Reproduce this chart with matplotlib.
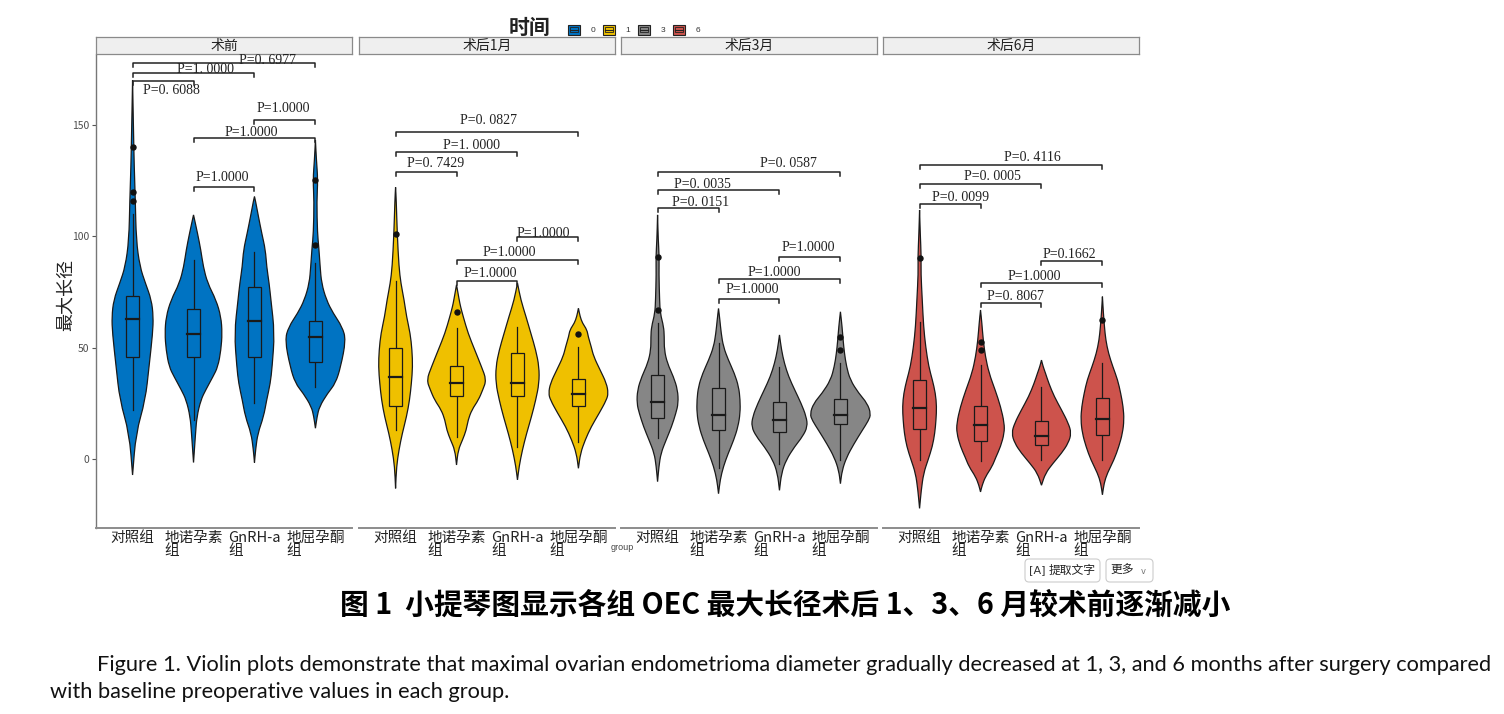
import numpy as np
import matplotlib
matplotlib.use('Agg')
import matplotlib.pyplot as plt
from matplotlib.path import Path
from matplotlib.patches import PathPatch, Rectangle, FancyBboxPatch

plt.rcParams['font.family'] = ['Noto Sans CJK SC', 'DejaVu Sans']

# ---- data ----
groups = ["对照组", "地诺孕素\n组", "GnRH-a\n组", "地屈孕酮\n组"]
times = ["术前", "术后1月", "术后3月", "术后6月"]
time_codes = ["0", "1", "3", "6"]
colors = ["#0073C2", "#EFC000", "#868686", "#CD534C"]

# violin outlines: value levels and half widths (category units), one list per group
pre_y = [[-7.2, 11.5, 26.5, 41.4, 56.5, 63.9, 71.4, 79, 86.4, 98.3, 116.3, 131.3, 146.4, 170],
         [-1.6, 11.5, 19, 26.5, 31, 37, 41.4, 48.9, 56.5, 63.9, 71.4, 79, 86.4, 93.8, 101.3, 109.6],
         [-1.6, 4.5, 11.5, 19, 26.5, 34, 41.4, 56.5, 71.4, 79, 86.4, 93.8, 101.3, 108.7, 116, 117.8],
         [13.8, 19, 23.5, 29.5, 34, 41.4, 53.4, 59.3, 65.5, 71.4, 79, 86.4, 95.3, 101.3, 116, 125.3, 134.3, 143.2]]
pre_w = [[0, 0.055, 0.21, 0.27, 0.33, 0.34, 0.31, 0.21, 0.12, 0.06, 0.045, 0.027, 0.016, 0],
         [0, 0.033, 0.055, 0.12, 0.2, 0.32, 0.4, 0.45, 0.47, 0.45, 0.37, 0.23, 0.16, 0.12, 0.066, 0],
         [0, 0.02, 0.055, 0.15, 0.2, 0.26, 0.29, 0.33, 0.27, 0.24, 0.2, 0.18, 0.12, 0.066, 0.016, 0],
         [0, 0.027, 0.066, 0.2, 0.33, 0.415, 0.5, 0.44, 0.29, 0.18, 0.1, 0.077, 0.055, 0.033, 0.022, 0.04, 0.016, 0]]

m1_y = [[-13.2, -3.4, 4, 11.5, 19, 26.5, 34, 41.4, 48.9, 56.4, 63.9, 71.4, 78.9, 86.4, 101.3, 116.3, 122],
        [-2.7, 4, 8.5, 13, 17.5, 22, 26.5, 31, 35.5, 41.4, 48.9, 56.4, 63.9, 68.4, 71.4, 78.2],
        [-9.4, -3.4, 4, 11.5, 19, 26.5, 34, 41.4, 48.9, 56.4, 63.9, 71.4, 79],
        [-4.2, 2.5, 8.5, 14.5, 20.5, 26.5, 29.5, 34, 40, 46, 50.4, 55, 58, 61, 64, 67.7]]
m1_w = [[0, 0.016, 0.055, 0.11, 0.18, 0.23, 0.26, 0.28, 0.27, 0.24, 0.18, 0.14, 0.087, 0.055, 0.027, 0.011, 0],
        [0, 0.027, 0.098, 0.16, 0.19, 0.25, 0.36, 0.43, 0.49, 0.41, 0.3, 0.19, 0.11, 0.066, 0.044, 0],
        [0, 0.027, 0.08, 0.15, 0.23, 0.3, 0.355, 0.355, 0.3, 0.22, 0.14, 0.055, 0],
        [0, 0.033, 0.11, 0.21, 0.34, 0.46, 0.49, 0.46, 0.355, 0.25, 0.21, 0.16, 0.14, 0.066, 0.027, 0]]

m3_y = [[-10.2, -3.4, 2.6, 8.5, 14.5, 20.5, 25, 31, 37, 43, 49, 55, 59.4, 65.4, 71.4, 83.3, 90.8, 98.3, 109.6],
        [-15.6, -9.4, -3.4, 2.6, 8.5, 14.5, 20.5, 26.5, 32.5, 38.5, 44.5, 50.4, 56.4, 62.4, 67.6],
        [-14.1, -6.4, -0.4, 5.6, 10.1, 14.5, 19, 25, 31, 37, 43, 49, 55.7],
        [-11.1, -5.2, 0.7, 6.7, 12.7, 17.2, 20.2, 25, 29.5, 35.5, 41.5, 47.4, 53.4, 59.4, 66.1]]
m3_w = [[0, 0.022, 0.055, 0.14, 0.23, 0.3, 0.34, 0.33, 0.26, 0.16, 0.11, 0.11, 0.1, 0.044, 0.033, 0.022, 0.027, 0.011, 0],
        [0, 0.027, 0.08, 0.16, 0.25, 0.32, 0.355, 0.355, 0.33, 0.26, 0.16, 0.08, 0.044, 0.022, 0],
        [0, 0.033, 0.11, 0.25, 0.38, 0.46, 0.44, 0.355, 0.25, 0.15, 0.08, 0.033, 0],
        [0, 0.027, 0.1, 0.22, 0.355, 0.46, 0.5, 0.44, 0.3, 0.16, 0.1, 0.066, 0.044, 0.027, 0]]

m6_y = [[-22.2, -14.1, -6.4, -0.4, 5.6, 11.6, 17.6, 23.5, 29.5, 35.5, 41.5, 50.4, 59.4, 71.4, 83.3, 90.8, 101.3, 111.8],
        [-14.8, -11.8, -8, -3.4, 0.7, 5.6, 11.6, 16.1, 23.5, 31, 38.5, 46, 53.4, 61, 66.9],
        [-11.8, -6.4, -1.9, 2.6, 7.1, 11.6, 16.1, 22, 28, 34, 38.5, 41.5, 44.4],
        [-16.1, -10.9, -6.4, -0.4, 5.6, 11.6, 17.6, 23.5, 29.5, 35.5, 41.5, 47.4, 53.4, 59.4, 65.4, 72.9]]
m6_w = [[0, 0.027, 0.066, 0.14, 0.21, 0.25, 0.27, 0.28, 0.26, 0.21, 0.15, 0.1, 0.066, 0.044, 0.022, 0.027, 0.011, 0],
        [0, 0.027, 0.08, 0.19, 0.25, 0.33, 0.39, 0.39, 0.33, 0.24, 0.14, 0.08, 0.044, 0.022, 0],
        [0, 0.066, 0.19, 0.33, 0.44, 0.49, 0.44, 0.33, 0.21, 0.12, 0.066, 0.027, 0],
        [0, 0.027, 0.08, 0.19, 0.27, 0.33, 0.355, 0.34, 0.3, 0.25, 0.17, 0.1, 0.055, 0.033, 0.016, 0]]

violin_y = [pre_y, m1_y, m3_y, m6_y]
violin_w = [pre_w, m1_w, m3_w, m6_w]

# box plot stats per time point (one value per group)
box_q1 = [[45.7, 45.9, 45.9, 43.7], [23.8, 28.4, 28.1, 23.8], [18.6, 13, 12.3, 15.7], [13.3, 8.2, 6.3, 10.8]]
box_med = [[62.9, 56, 62.1, 54.9], [37, 34, 34.3, 29], [25.7, 19.7, 17.5, 19.7], [23, 15.3, 10.1, 17.8]]
box_q3 = [[73.2, 67.4, 77.4, 62], [49.7, 41.7, 47.4, 35.7], [37.7, 31.7, 25.7, 26.8], [35.5, 24, 17.2, 27.3]]
whisk_lo = [[22, 17.5, 25, 32.5], [13, 10, 5.5, 7.8], [9.3, -4.2, -2.4, -0.4], [-0.4, -0.8, -0.4, -0.4]]
whisk_hi = [[110, 89.4, 93.1, 87.9], [79.7, 58.6, 59.4, 50.4], [61, 52, 41.5, 43], [61.6, 42.2, 32.5, 43]]
outliers = [[[140, 120, 116], [], [], [125.2, 96]],
            [[100.9], [66.1], [], [55.9]],
            [[90.8, 66.9], [], [], [54.9, 48.9]],
            [[90.1], [52.7, 49], [], [62.4]]]

# pairwise comparisons
pairs = [(1, 2), (1, 3), (1, 4), (2, 3), (2, 4), (3, 4)]
p_labels = [["P=0. 6088", "P=1. 0000", "P=0. 6977", "P=1.0000", "P=1.0000", "P=1.0000"],
            ["P=0. 7429", "P=1. 0000", "P=0. 0827", "P=1.0000", "P=1.0000", "P=1.0000"],
            ["P=0. 0151", "P=0. 0035", "P=0. 0587", "P=1.0000", "P=1.0000", "P=1.0000"],
            ["P=0. 0099", "P=0. 0005", "P=0. 4116", "P=0. 8067", "P=1.0000", "P=0.1662"]]

# layout of the brackets and their labels (value units / category units)
bracket_h = [[169.9, 173.2, 178.0, 122.1, 144.1, 152.2],
             [129.0, 137.7, 147.0, 80.1, 89.4, 99.6],
             [112.8, 120.8, 128.7, 71.7, 80.7, 90.8],
             [114.6, 123.4, 132.0, 69.9, 78.9, 89.0]]
label_x = [[1.64, 2.19, 3.21, 2.47, 2.94, 3.47],
           [1.66, 2.25, 2.53, 2.55, 2.86, 3.43],
           [1.70, 1.73, 3.14, 2.56, 2.91, 3.47],
           [1.67, 2.20, 2.85, 2.58, 2.89, 3.45]]
label_y = [[165.4, 175.0, 178.9, 126.2, 146.5, 157.5],
           [132.5, 140.7, 152.2, 83.1, 92.5, 101.3],
           [115.3, 123.4, 132.5, 75.9, 83.8, 95.1],
           [117.5, 126.8, 135.5, 72.9, 81.9, 91.6]]

yticks = [0, 50, 100, 150]

# ---- figure ----
W, H = 1504, 714
fig = plt.figure(figsize=(W / 100, H / 100), dpi=100)
fig.patch.set_facecolor('white')

panel_left = [96, 359, 621, 883]
panel_w = 256
top_px, bot_px = 55, 528


def side_path(xs, ys):
    pts = list(zip(xs, ys))
    verts = [pts[0], ((pts[0][0] + pts[1][0]) / 2, (pts[0][1] + pts[1][1]) / 2)]
    codes = [Path.LINETO, Path.LINETO]
    for i in range(1, len(pts) - 1):
        nxt = ((pts[i][0] + pts[i + 1][0]) / 2, (pts[i][1] + pts[i + 1][1]) / 2)
        verts += [pts[i], nxt]
        codes += [Path.CURVE3, Path.CURVE3]
    verts.append(pts[-1])
    codes.append(Path.LINETO)
    return verts, codes


def violin(ax, c, ys, ws, color):
    ys = np.array(ys)
    ws = np.array(ws)
    v1, c1 = side_path(c + ws, ys)
    v2, c2 = side_path((c - ws)[::-1], ys[::-1])
    verts = v1 + v2 + [v1[0]]
    codes = c1 + c2 + [Path.CLOSEPOLY]
    codes[0] = Path.MOVETO
    ax.add_patch(PathPatch(Path(verts, codes), facecolor=color, edgecolor='#1a1a1a', lw=0.9, zorder=2))


# facet strips first so the panels draw over them
for t in range(4):
    sx = fig.add_axes([panel_left[t] / W, 1 - 54 / H, panel_w / W, 17 / H])
    sx.set_facecolor('#efefef')
    sx.set_xticks([])
    sx.set_yticks([])
    for s in sx.spines.values():
        s.set_color('#8a8a8a')
        s.set_linewidth(0.9)
    sx.text(0.5, 0.45, times[t], ha='center', va='center', fontsize=10, color='#222',
            transform=sx.transAxes)

for t in range(4):
    ax = fig.add_axes([panel_left[t] / W, 1 - bot_px / H, panel_w / W, (bot_px - top_px) / H])
    ax.set_zorder(3)
    ax.set_xlim(0.4, 4.6)
    ax.set_ylim(-31, 181.4)
    for g in range(4):
        c = g + 1
        violin(ax, c, violin_y[t][g], violin_w[t][g], colors[t])
        ax.plot([c, c], [whisk_lo[t][g], box_q1[t][g]], color='#1a1a1a', lw=0.9, zorder=3)
        ax.plot([c, c], [box_q3[t][g], whisk_hi[t][g]], color='#1a1a1a', lw=0.9, zorder=3)
        ax.add_patch(Rectangle((c - 0.1, box_q1[t][g]), 0.2, box_q3[t][g] - box_q1[t][g],
                               facecolor=colors[t], edgecolor='#1a1a1a', lw=0.9, zorder=3))
        ax.plot([c - 0.1, c + 0.1], [box_med[t][g]] * 2, color='#1a1a1a', lw=1.6, zorder=4)
        if outliers[t][g]:
            ax.plot([c] * len(outliers[t][g]), outliers[t][g], 'o', ms=3.6, color='#111', zorder=4)
    for k, (a, b) in enumerate(pairs):
        h = bracket_h[t][k]
        ax.plot([a, a, b, b], [h - 1.8, h, h, h - 1.8], color='#222', lw=1.1, clip_on=False, zorder=5)
        ax.text(label_x[t][k], label_y[t][k], p_labels[t][k], ha='center', va='center',
                fontsize=10, family=['Liberation Serif', 'DejaVu Serif'], color='#222', clip_on=False)

    for s in ['top', 'right', 'left']:
        ax.spines[s].set_visible(False)
    ax.spines['bottom'].set_color('#8c8c8c')
    ax.spines['bottom'].set_linewidth(1.4)
    ax.set_facecolor('none')
    ax.set_xticks([1, 2, 3, 4])
    ax.set_xticklabels(groups, fontsize=10.5, linespacing=0.9)
    for lbl in ax.get_xticklabels():
        lbl.set_multialignment('left')
    ax.tick_params(axis='x', length=0, pad=2, colors='#222')
    if t == 0:
        ax.spines['left'].set_visible(True)
        ax.spines['left'].set_color('#777')
        ax.spines['left'].set_linewidth(1.0)
        ax.set_yticks(yticks)
        ax.tick_params(axis='y', length=3, width=0.8, color='#555', labelsize=7.5,
                       labelcolor='#4d4d4d', pad=2)
    else:
        ax.set_yticks([])

# overlay in pixel coordinates for legend, labels and captions
ov = fig.add_axes([0, 0, 1, 1])
ov.set_zorder(5)
ov.set_xlim(0, W)
ov.set_ylim(H, 0)
ov.axis('off')

ov.text(66, 295, '最大长径', rotation=90, ha='center', va='center', fontsize=13, color='#222')
ov.text(622, 548, 'group', ha='center', va='center', fontsize=6.5, color='#444', family='Liberation Sans')

ov.text(530, 27, '时间', ha='center', va='center', fontsize=15, fontweight='bold', color='#222')
for i, code in enumerate(time_codes):
    kx = 568 + i * 35
    ov.add_patch(Rectangle((kx, 24.5), 12, 10, facecolor=colors[i], edgecolor='#222', lw=0.8))
    ov.add_patch(Rectangle((kx + 2, 27), 8, 5, facecolor='none', edgecolor='#222', lw=0.6))
    ov.plot([kx + 2, kx + 10], [29.5, 29.5], color='#222', lw=0.8)
    ov.text(kx + 25, 30, code, ha='center', va='center', fontsize=6, color='#333', family='Liberation Sans')

# toolbar buttons
ov.add_patch(FancyBboxPatch((1025, 559), 75, 23, boxstyle='round,pad=0,rounding_size=4',
                            facecolor='white', edgecolor='#cccccc', lw=0.8))
ov.add_patch(FancyBboxPatch((1106, 559), 47, 23, boxstyle='round,pad=0,rounding_size=4',
                            facecolor='white', edgecolor='#cccccc', lw=0.8))
ov.text(1037, 570.5, '[A]', ha='center', va='center', fontsize=8, color='#333', family='DejaVu Sans')
ov.text(1072, 570.5, '提取文字', ha='center', va='center', fontsize=8.5, color='#222')
ov.text(1122, 570.5, '更多', ha='center', va='center', fontsize=8.5, color='#222')
ov.text(1143, 571, 'v', ha='center', va='center', fontsize=6, color='#777', family='DejaVu Sans')

# captions, scaled to the widths in the reference
renderer = fig.canvas.get_renderer()


def fit(txt, width):
    bb = txt.get_window_extent(renderer)
    txt.set_fontsize(txt.get_fontsize() * width / bb.width)


title = ov.text(785, 605, '图 1  小提琴图显示各组 OEC 最大长径术后 1、3、6 月较术前逐渐减小',
                ha='center', va='center', fontsize=18, fontweight='bold', color='black')
fit(title, 890)

cap1 = ov.text(97, 665, 'Figure 1. Violin plots demonstrate that maximal ovarian endometrioma diameter '
               'gradually decreased at 1, 3, and 6 months after surgery compared',
               ha='left', va='center', fontsize=14, family='Lato', color='#111')
fit(cap1, 1395)
fit(cap1, 1395)
cap2 = ov.text(50, 692, 'with baseline preoperative values in each group.',
               ha='left', va='center', fontsize=cap1.get_fontsize(), family='Lato', color='#111')

fig.savefig('out.png', dpi=100, facecolor='white')
